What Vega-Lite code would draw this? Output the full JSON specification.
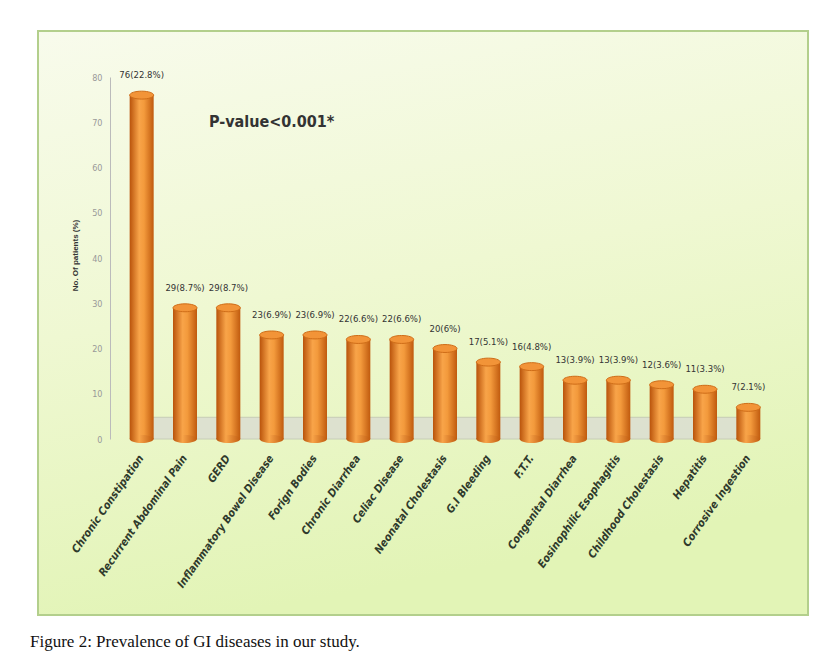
{
  "$schema": "https://vega.github.io/schema/vega-lite/v6.json",
  "width": 770,
  "height": 584,
  "autosize": {"type": "none"},
  "padding": {"left": 38, "top": 31, "right": 19, "bottom": 40},
  "background": "#ffffff",
  "title": {
    "text": "Figure 2: Prevalence of GI diseases in our study.",
    "orient": "bottom",
    "anchor": "start",
    "dx": -8,
    "offset": 19,
    "font": "Liberation Serif",
    "fontSize": 17,
    "fontWeight": "normal",
    "color": "#111111"
  },
  "config": {
    "view": {
      "fill": {"gradient": "linear", "x1": 0, "y1": 0, "x2": 0.25, "y2": 1,
        "stops": [{"offset": 0, "color": "#f8fbec"}, {"offset": 0.5, "color": "#eff8d2"}, {"offset": 1, "color": "#e2f4b6"}]},
      "stroke": "#b3cf8c",
      "strokeWidth": 2
    }
  },
  "data": {
    "values": [
      {"disease": "Chronic Constipation", "n": 76, "label": "76(22.8%)"},
      {"disease": "Recurrent Abdominal Pain", "n": 29, "label": "29(8.7%)"},
      {"disease": "GERD", "n": 29, "label": "29(8.7%)"},
      {"disease": "Inflammatory Bowel Disease", "n": 23, "label": "23(6.9%)"},
      {"disease": "Forign Bodies", "n": 23, "label": "23(6.9%)"},
      {"disease": "Chronic Diarrhea", "n": 22, "label": "22(6.6%)"},
      {"disease": "Celiac Disease", "n": 22, "label": "22(6.6%)"},
      {"disease": "Neonatal Cholestasis", "n": 20, "label": "20(6%)"},
      {"disease": "G.I Bleeding", "n": 17, "label": "17(5.1%)"},
      {"disease": "F.T.T.", "n": 16, "label": "16(4.8%)"},
      {"disease": "Congenital Diarrhea", "n": 13, "label": "13(3.9%)"},
      {"disease": "Eosinophilic Esophagitis", "n": 13, "label": "13(3.9%)"},
      {"disease": "Childhood Cholestasis", "n": 12, "label": "12(3.6%)"},
      {"disease": "Hepatitis", "n": 11, "label": "11(3.3%)"},
      {"disease": "Corrosive Ingestion", "n": 7, "label": "7(2.1%)"}
    ]
  },
  "encoding": {
    "x": {
      "field": "disease", "type": "nominal", "sort": null,
      "scale": {
        "domain": ["Chronic Constipation", "Recurrent Abdominal Pain", "GERD", "Inflammatory Bowel Disease", "Forign Bodies", "Chronic Diarrhea", "Celiac Disease", "Neonatal Cholestasis", "G.I Bleeding", "F.T.T.", "Congenital Diarrhea", "Eosinophilic Esophagitis", "Childhood Cholestasis", "Hepatitis", "Corrosive Ingestion"],
        "paddingInner": 0, "paddingOuter": 0, "range": [82, 732]},
      "axis": {
        "title": null, "orient": "bottom", "offset": -176,
        "domain": false, "ticks": false, "labelAngle": -55, "labelPadding": 17,
        "labelFont": "Liberation Sans Narrow, DejaVu Sans Condensed, sans-serif",
        "labelFontSize": 11, "labelFontWeight": "bold", "labelFontStyle": "italic",
        "labelColor": "#2f3a2c", "labelLimit": 300
      }
    }
  },
  "layer": [
    {
      "data": {"values": [{"disease": "Chronic Constipation", "last": "Corrosive Ingestion", "lo": 0, "hi": 4.8}]},
      "mark": {"type": "rect", "fill": "#dcdfd1", "stroke": "#c4c9b6", "strokeWidth": 1, "opacity": 0.9, "xOffset": -6, "x2Offset": 3},
      "encoding": {
        "x2": {"field": "last"},
        "y": {"field": "lo", "type": "quantitative"},
        "y2": {"field": "hi"}
      }
    },
    {
      "mark": {"type": "bar", "width": 24,
        "fill": {"gradient": "linear", "x1": 0, "y1": 0, "x2": 1, "y2": 0,
          "stops": [{"offset": 0, "color": "#b9530b"}, {"offset": 0.4, "color": "#f8a449"}, {"offset": 0.6, "color": "#f39a3c"}, {"offset": 1, "color": "#c05a0e"}]}},
      "encoding": {
        "y": {
          "field": "n", "type": "quantitative",
          "scale": {"domain": [-38.89, 90.17], "nice": false, "zero": false},
          "axis": {
            "orient": "left", "offset": -72, "values": [0, 10, 20, 30, 40, 50, 60, 70, 80],
            "grid": false, "ticks": false,
            "domain": true, "domainColor": "#bbbbbb", "domainWidth": 1,
            "domainDash": [362, 222], "domainDashOffset": 408,
            "labelColor": "#999999", "labelFontSize": 9, "labelPadding": 8,
            "labelFont": "Liberation Sans Narrow, DejaVu Sans Condensed, sans-serif",
            "title": "No. Of patients (%)", "titleFontSize": 8, "titleFontWeight": "bold",
            "titleColor": "#333333", "titleY": 224, "titlePadding": 12,
            "titleFont": "Liberation Sans, sans-serif"
          }
        },
        "y2": {"datum": 0}
      }
    },
    {
      "mark": {"type": "point", "shape": "M-1,0A1,0.33,0,1,0,1,0A1,0.33,0,1,0,-1,0Z", "size": 576, "filled": true,
        "fill": {"gradient": "linear", "x1": 0, "y1": 0, "x2": 1, "y2": 0,
          "stops": [{"offset": 0, "color": "#b9530b"}, {"offset": 0.4, "color": "#f8a449"}, {"offset": 1, "color": "#c05a0e"}]},
        "opacity": 1},
      "encoding": {"y": {"datum": 0}}
    },
    {
      "mark": {"type": "point", "shape": "M-1,0A1,0.33,0,1,0,1,0A1,0.33,0,1,0,-1,0Z", "size": 576, "filled": true,
        "fill": "#f29438", "stroke": "#cf6d18", "strokeWidth": 1, "opacity": 1},
      "encoding": {"y": {"field": "n", "type": "quantitative"}}
    },
    {
      "mark": {"type": "text", "dy": -20, "fontSize": 9.5, "fontWeight": "normal",
        "font": "Liberation Sans Narrow, DejaVu Sans Condensed, sans-serif", "color": "#333333"},
      "encoding": {
        "y": {"field": "n", "type": "quantitative"},
        "text": {"field": "label"}
      }
    },
    {
      "data": {"values": [{"note": "P-value<0.001*", "disease": "Inflammatory Bowel Disease", "v": 70}]},
      "mark": {"type": "text", "fontSize": 16, "fontWeight": "bold",
        "font": "Liberation Sans Narrow, DejaVu Sans Condensed, sans-serif", "color": "#333333"},
      "encoding": {
        "y": {"field": "v", "type": "quantitative"},
        "text": {"field": "note"}
      }
    }
  ]
}
